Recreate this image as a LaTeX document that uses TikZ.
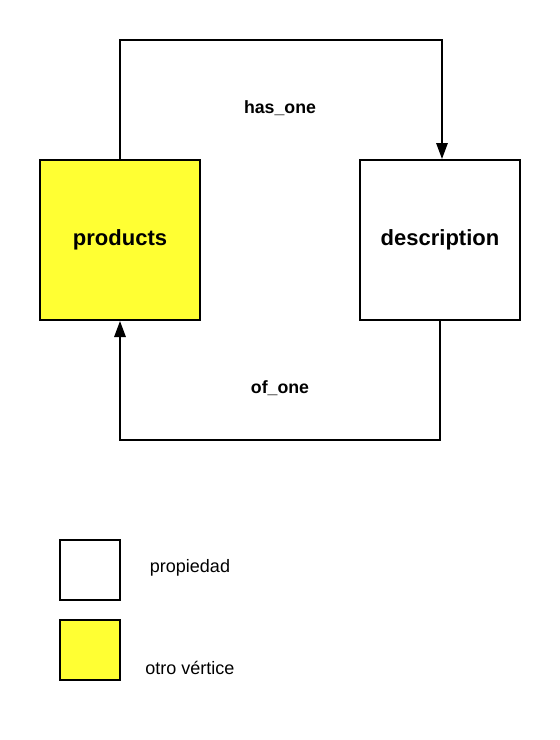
\documentclass[tikz,border=0pt]{standalone}
\usepackage{fontspec}
\setmainfont{Liberation Sans}
\usepackage{xcolor}
\usetikzlibrary{arrows.meta,positioning}
\definecolor{vyellow}{HTML}{FFFF33}
\tikzset{
  >={Triangle[length=12pt,width=8.5pt]},
  vbox/.style={rectangle, draw=black, line width=1.5pt, minimum size=120pt,
               inner sep=0pt, font=\fontsize{16.5}{18}\selectfont\bfseries},
  vprop/.style={vbox, fill=white},
  vother/.style={vbox, fill=vyellow},
  vkey/.style={rectangle, draw=black, line width=1.5pt, minimum size=45pt,
               inner sep=0pt},
  vlink/.style={->, black, line width=1.5pt},
  vlbl/.style={font=\fontsize{13.3}{15}\selectfont\bfseries},
  vtxt/.style={font=\fontsize{13.5}{15}\selectfont},
}
\begin{document}
\begin{tikzpicture}[x=0.75pt,y=-0.75pt]
  \useasboundingbox (0,0) rectangle (560,740);

  \node[vother] (products)    at (120,240) {products};
  \node[vprop]  (description) at (440,240) {description};

  % relaciones entre vértices
  \coordinate (hasbend) at (442,40);
  \coordinate (ofbend)  at (120,440);
  \draw[vlink] (products.north) |- (hasbend) -- (hasbend |- description.north);
  \draw[vlink] (description.south) |- (ofbend) -- (products.south);
  \node[vlbl] (hasone) at (280,108) {has\_one};
  \node[vlbl] (ofone)  at (280,388) {of\_one};

  % leyenda
  \node[vkey, fill=white]   (keyprop)  at (90,570) {};
  \node[vkey, fill=vyellow] (keyother) at (90,650) {};
  \node[vtxt] (propiedad) at (190,568) {propiedad};
  \node[vtxt] (otro)      at (190,668) {otro vértice};

\end{tikzpicture}
\end{document}
